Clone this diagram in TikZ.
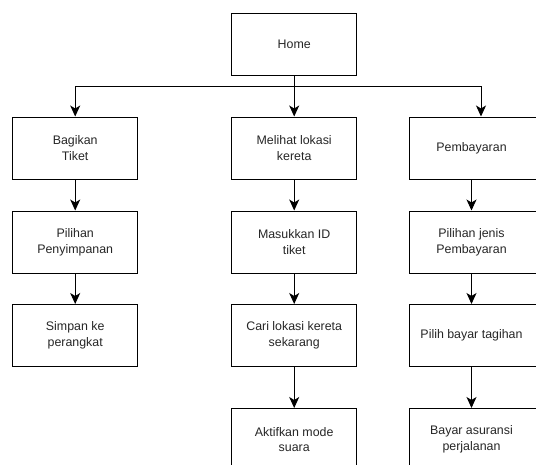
\documentclass[tikz,border=0pt]{standalone}
\usepackage{fontspec}
\setmainfont{Liberation Sans}
\usetikzlibrary{arrows.meta}
\tikzset{
  box/.style={draw=black, line width=1pt, fill=white, minimum width=125pt, minimum height=62pt,
    align=center, inner sep=0pt, text=black!85,
    font=\fontsize{12.4pt}{15.7pt}\selectfont},
  wide/.style={box, minimum width=128pt},
  arrow/.style={draw=black, line width=1pt, -{Stealth[length=11pt, width=10pt, inset=3pt]}},
  link/.style={draw=black, line width=1pt}
}
\begin{document}
\begin{tikzpicture}[x=1pt, y=-1pt]
  \useasboundingbox (0,0) rectangle (536,464);
  \clip (0,0) rectangle (536,464);

  % top node
  \node[box] (home) at (294.2,44.5) {Home};

  % left column
  \node[box] (bagikan) at (75.2,148) {Bagikan\\Tiket};
  \node[box] (pilsimpan) at (75.2,242) {Pilihan\\Penyimpanan};
  \node[box] (simpan) at (75.2,335.5) {Simpan ke\\perangkat};

  % middle column
  \node[box] (lokasi) at (294.2,148) {Melihat lokasi\\kereta};
  \node[box] (idtiket) at (294.2,242) {Masukkan ID\\tiket};
  \node[box] (cari) at (294.2,335.5) {Cari lokasi kereta\\sekarang};
  \node[box] (suara) at (294.2,439.5) {Aktifkan mode\\suara};

  % right column
  \node[wide] (bayar) at (473,148) {\hspace*{-3pt}Pembayaran};
  \node[wide] (jenis) at (473,242) {\hspace*{-3pt}Pilihan jenis\\\hspace*{-3pt}Pembayaran};
  \node[wide] (tagihan) at (473,335.5) {\hspace*{-3pt}Pilih bayar tagihan};
  \node[wide] (asuransi) at (473,439.5) {\hspace*{-3pt}Bayar asuransi\\\hspace*{-3pt}perjalanan};

  % branching from the top node
  \coordinate (bus) at (294.2,86);
  \draw[link] (home.south) -- (bus);
  \draw[arrow] (bus) -- (lokasi.north);
  \draw[arrow] (bus) -| (bagikan.north);
  \draw[arrow] (bus) -| ([xshift=8pt]bayar.north);

  % column chains
  \draw[arrow] (bagikan.south) -- (pilsimpan.north);
  \draw[arrow] (pilsimpan.south) -- (simpan.north);

  \draw[arrow] (lokasi.south) -- (idtiket.north);
  \draw[arrow] (idtiket.south) -- (cari.north);
  \draw[arrow] (cari.south) -- (suara.north);

  \draw[arrow] ([xshift=-1.5pt]bayar.south) -- ([xshift=-1.5pt]jenis.north);
  \draw[arrow] ([xshift=-1.5pt]jenis.south) -- ([xshift=-1.5pt]tagihan.north);
  \draw[arrow] ([xshift=-1.5pt]tagihan.south) -- ([xshift=-1.5pt]asuransi.north);
\end{tikzpicture}
\end{document}
